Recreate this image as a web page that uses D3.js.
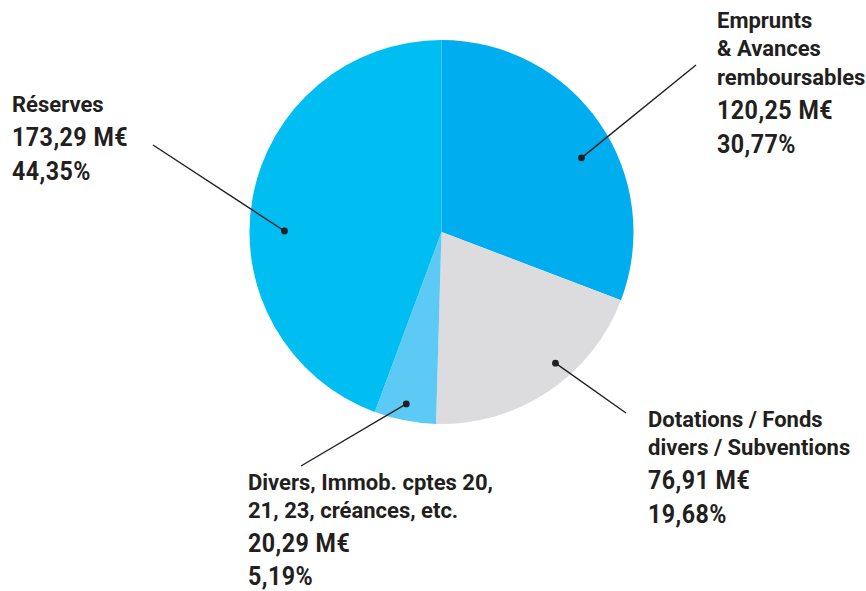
<!DOCTYPE html>
<html>
<head>
<meta charset="utf-8">
<script src="https://cdn.jsdelivr.net/npm/d3@7"></script>
<style>
  html, body { margin: 0; padding: 0; background: #fff; }
  .name { font-family: Roboto, "Liberation Sans", sans-serif; font-weight: 700; font-size: 22px; fill: #231f20; }
  .num { font-family: Roboto, "Liberation Sans", sans-serif; font-weight: 700; font-size: 25px; fill: #231f20; letter-spacing: 0.5px; }
</style>
</head>
<body>
<svg id="chart" width="866" height="591"></svg>
<script>
// slice data, clockwise from 12 o'clock
const categories = [
  ["Emprunts", "& Avances", "remboursables"],
  ["Dotations / Fonds", "divers / Subventions"],
  ["Divers, Immob. cptes 20,", "21, 23, créances, etc."],
  ["Réserves"]
];
const amounts = ["120,25 M€", "76,91 M€", "20,29 M€", "173,29 M€"];
const percents = [30.77, 19.68, 5.19, 44.35];
const colors = ["#00adee", "#dcdcde", "#5ccaf5", "#00bdf2"];

// label placement (layout only)
const layout = [
  {x: 717, y: 28, gap: 34, end: [696, 65], dAngle: 6.7, rf: 0.825},
  {x: 648, y: 427, gap: 34, end: [626, 413], dAngle: -7.2, rf: 0.905},
  {x: 248, y: 490, gap: 33, end: [301, 466], dAngle: 0.6, rf: 0.914},
  {x: 12, y: 112, gap: 34, end: [153, 145], dAngle: -9.8, rf: 0.818}
];

const cx = 441.5, cy = 232, R = 192;
const svg = d3.select("#chart");
const g = svg.append("g").attr("transform", `translate(${cx},${cy})`);

const pie = d3.pie().sort(null).value(d => d);
const arcs = pie(percents);
const arc = d3.arc().innerRadius(0).outerRadius(R);

g.selectAll("path.slice")
  .data(arcs)
  .join("path")
    .attr("class", "slice")
    .attr("d", arc)
    .attr("fill", (d, i) => colors[i]);

const fmt = v => d3.format(".2f")(v).replace(".", ",") + "%";

// condensed look for the figures
function num(x, y, t) {
  svg.append("text").attr("class", "num")
    .attr("transform", `translate(${x},${y}) scale(0.93,1)`)
    .text(t);
}

arcs.forEach((d, i) => {
  const L = layout[i];
  const a = (d.startAngle + d.endAngle) / 2 + L.dAngle * Math.PI / 180;
  const r = R * L.rf;
  const px = cx + r * Math.sin(a), py = cy - r * Math.cos(a);

  svg.append("line")
    .attr("x1", px).attr("y1", py)
    .attr("x2", L.end[0]).attr("y2", L.end[1])
    .attr("stroke", "#231f20")
    .attr("stroke-width", 1.4);
  svg.append("circle")
    .attr("cx", px).attr("cy", py).attr("r", 3.4)
    .attr("fill", "#231f20");

  const lines = categories[i];
  lines.forEach((t, k) => {
    svg.append("text").attr("class", "name")
      .attr("x", L.x).attr("y", L.y + k * 28.3)
      .text(t);
  });
  const base = L.y + (lines.length - 1) * 28.3 + 34;
  num(L.x, base, amounts[i]);
  num(L.x, base + L.gap, fmt(percents[i]));
});
</script>
</body>
</html>
